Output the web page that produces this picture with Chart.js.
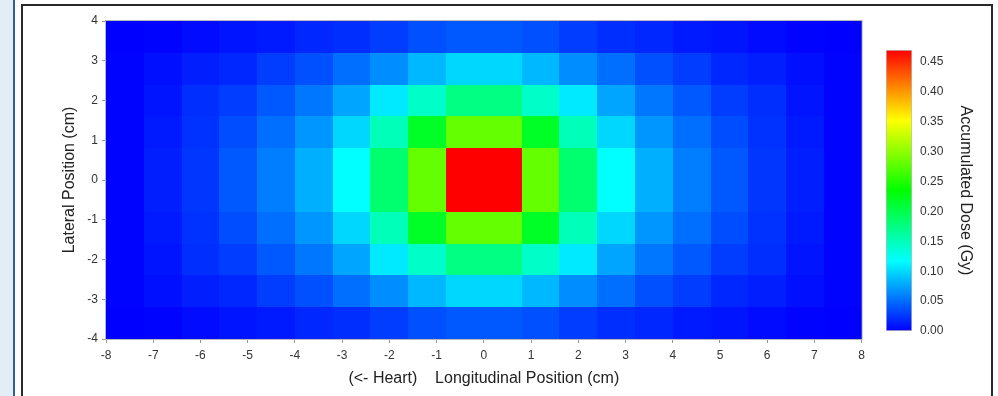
<!DOCTYPE html>
<html>
<head>
<meta charset="utf-8">
<script src="https://cdn.jsdelivr.net/npm/chart.js@4"></script>
<style>
  body { margin: 0; width: 998px; height: 396px; background: #e3edf5; overflow: hidden; position: relative; }
  #edge { position: absolute; left: 13px; top: 0; width: 2px; height: 396px; background: #2f5d9b; }
  #panel { position: absolute; left: 15px; top: 0; width: 983px; height: 396px; background: #fff; }
  #frame { position: absolute; left: 21px; top: 4px; width: 968px; height: 420px; border: 2px solid #2a2a2a; }
  #main { position: absolute; left: 22px; top: 5px; width: 848px; height: 391px; }
  #bar { position: absolute; left: 870px; top: 5px; width: 120px; height: 391px; }
</style>
</head>
<body>
<div id="edge"></div>
<div id="panel"></div>
<div id="frame"></div>
<div id="main"><canvas id="heatChart"></canvas></div>
<div id="bar"><canvas id="scaleChart"></canvas></div>
<script>
// centros de las celdas (cm) y tamaño de celda
const colCenters = [-7.6, -6.8, -6.0, -5.2, -4.4, -3.6, -2.8, -2.0, -1.2, -0.4,
                     0.4,  1.2,  2.0,  2.8,  3.6,  4.4,  5.2,  6.0,  6.8,  7.6];
const rowCenters = [3.6, 2.8, 2.0, 1.2, 0.4, -0.4, -1.2, -2.0, -2.8, -3.6];
const cellSize = 0.8;

// dosis acumulada (Gy), una fila por posición lateral (de arriba a abajo)
const dose = [
  [0.000,0.002,0.005,0.009,0.012,0.018,0.021,0.028,0.037,0.041,0.041,0.037,0.028,0.021,0.018,0.012,0.009,0.005,0.002,0.000],
  [0.002,0.007,0.014,0.018,0.028,0.037,0.051,0.065,0.085,0.099,0.099,0.085,0.065,0.051,0.037,0.028,0.018,0.014,0.007,0.002],
  [0.002,0.009,0.021,0.028,0.041,0.055,0.076,0.108,0.143,0.175,0.175,0.143,0.108,0.076,0.055,0.041,0.028,0.021,0.009,0.002],
  [0.002,0.012,0.023,0.035,0.051,0.069,0.099,0.150,0.217,0.281,0.281,0.217,0.150,0.099,0.069,0.051,0.035,0.023,0.012,0.002],
  [0.002,0.014,0.025,0.041,0.058,0.081,0.118,0.184,0.281,0.470,0.470,0.281,0.184,0.118,0.081,0.058,0.041,0.025,0.014,0.002],
  [0.002,0.014,0.025,0.041,0.058,0.081,0.118,0.184,0.281,0.470,0.470,0.281,0.184,0.118,0.081,0.058,0.041,0.025,0.014,0.002],
  [0.002,0.012,0.023,0.035,0.051,0.069,0.099,0.150,0.217,0.281,0.281,0.217,0.150,0.099,0.069,0.051,0.035,0.023,0.012,0.002],
  [0.002,0.009,0.021,0.028,0.041,0.055,0.076,0.108,0.143,0.175,0.175,0.143,0.108,0.076,0.055,0.041,0.028,0.021,0.009,0.002],
  [0.002,0.007,0.014,0.018,0.028,0.037,0.051,0.065,0.085,0.099,0.099,0.085,0.065,0.051,0.037,0.028,0.018,0.014,0.007,0.002],
  [0.000,0.002,0.005,0.009,0.012,0.018,0.021,0.028,0.037,0.041,0.041,0.037,0.028,0.021,0.018,0.012,0.009,0.005,0.002,0.000]
];

// escala de color (arco iris) y rango de la barra
const doseMax = 0.47;
const stopValues = [0, 0.1175, 0.235, 0.3525, 0.47];
const stopColors = [[0,0,255],[0,255,255],[0,255,0],[255,255,0],[255,0,0]];
const barTicks = [0, 0.05, 0.10, 0.15, 0.20, 0.25, 0.30, 0.35, 0.40, 0.45];

const FONT = '"Liberation Sans", Arial, sans-serif';
Chart.defaults.font.family = FONT;
Chart.defaults.color = '#333';

function doseColor(v) {
  for (let i = 1; i < stopValues.length; i++) {
    if (v <= stopValues[i]) {
      const t = (v - stopValues[i-1]) / (stopValues[i] - stopValues[i-1]);
      const a = stopColors[i-1], b = stopColors[i];
      return 'rgb(' + a.map((c, k) => Math.round(c + (b[k] - c) * t)).join(',') + ')';
    }
  }
  return 'rgb(255,0,0)';
}

// puntos de la malla
const cells = [];
for (let r = 0; r < rowCenters.length; r++) {
  for (let c = 0; c < colCenters.length; c++) {
    cells.push({ x: colCenters[c], y: rowCenters[r], v: dose[r][c] });
  }
}

// dibuja cada celda con las escalas del gráfico
const heatPlugin = {
  id: 'heat',
  beforeDatasetsDraw(chart) {
    const { ctx, scales: { x, y } } = chart;
    ctx.save();
    chart.data.datasets[0].data.forEach(p => {
      const x0 = Math.round(x.getPixelForValue(p.x - cellSize / 2));
      const x1 = Math.round(x.getPixelForValue(p.x + cellSize / 2));
      const y0 = Math.round(y.getPixelForValue(p.y + cellSize / 2));
      const y1 = Math.round(y.getPixelForValue(p.y - cellSize / 2));
      ctx.fillStyle = doseColor(p.v);
      ctx.fillRect(x0, y0, x1 - x0, y1 - y0);
    });
    const a = chart.chartArea;
    ctx.strokeStyle = '#b8b8b8';
    ctx.lineWidth = 1;
    ctx.strokeRect(a.left - 0.5, a.top - 0.5, a.width + 1, a.height + 1);
    ctx.restore();
  }
};

new Chart(document.getElementById('heatChart'), {
  type: 'scatter',
  data: { datasets: [{ data: cells, pointRadius: 0, pointHoverRadius: 0 }] },
  options: {
    responsive: true,
    maintainAspectRatio: false,
    animation: false,
    events: [],
    layout: { padding: { top: 16, right: 8, left: 0, bottom: 0 } },
    plugins: { legend: { display: false }, tooltip: { enabled: false } },
    scales: {
      x: {
        type: 'linear', min: -8, max: 8,
        ticks: { stepSize: 1, font: { size: 12 }, padding: 5, color: '#333' },
        grid: { drawOnChartArea: false, color: '#999', tickLength: 4 },
        border: { color: '#b8b8b8' },
        title: { display: true, text: '(<- Heart)    Longitudinal Position (cm)', font: { size: 16 }, color: '#222', padding: { top: 0, bottom: 8 } },
        afterFit: s => { s.height = 57; }
      },
      y: {
        type: 'linear', min: -4, max: 4,
        ticks: { stepSize: 1, font: { size: 12 }, padding: 4, color: '#333' },
        grid: { drawOnChartArea: false, color: '#999', tickLength: 4 },
        border: { color: '#b8b8b8' },
        title: { display: true, text: 'Lateral Position (cm)', font: { size: 16 }, color: '#222', padding: { top: 38, bottom: 0 } },
        afterFit: s => { s.width = 84; }
      }
    }
  },
  plugins: [heatPlugin]
});

// barra de color
new Chart(document.getElementById('scaleChart'), {
  type: 'bar',
  data: {
    labels: ['dose'],
    datasets: [{
      data: [[0, doseMax]],
      backgroundColor: c => {
        const chart = c.chart;
        if (!chart.chartArea) return '#0000ff';
        const y = chart.scales.y;
        const g = chart.ctx.createLinearGradient(0, y.getPixelForValue(0), 0, y.getPixelForValue(doseMax));
        stopValues.forEach((v, i) => g.addColorStop(v / doseMax, 'rgb(' + stopColors[i].join(',') + ')'));
        return g;
      },
      borderColor: '#bdbdbd',
      borderWidth: 1,
      borderSkipped: false,
      barPercentage: 1,
      categoryPercentage: 1
    }]
  },
  options: {
    responsive: true,
    maintainAspectRatio: false,
    animation: false,
    events: [],
    layout: { padding: { top: 45, left: 16, right: 0, bottom: 65 } },
    plugins: { legend: { display: false }, tooltip: { enabled: false } },
    scales: {
      x: { display: false },
      y: {
        position: 'right', min: 0, max: doseMax,
        afterBuildTicks: s => { s.ticks = barTicks.map(v => ({ value: v })); },
        ticks: { font: { size: 12 }, padding: 8, color: '#333', callback: v => v.toFixed(2) },
        grid: { display: false, drawTicks: false },
        border: { display: false },
        title: { display: true, text: 'Accumulated Dose (Gy)', font: { size: 16 }, color: '#222', padding: { top: 15, bottom: 0 } },
        afterFit: s => { s.width = 78; }
      }
    }
  }
});
</script>
</body>
</html>
